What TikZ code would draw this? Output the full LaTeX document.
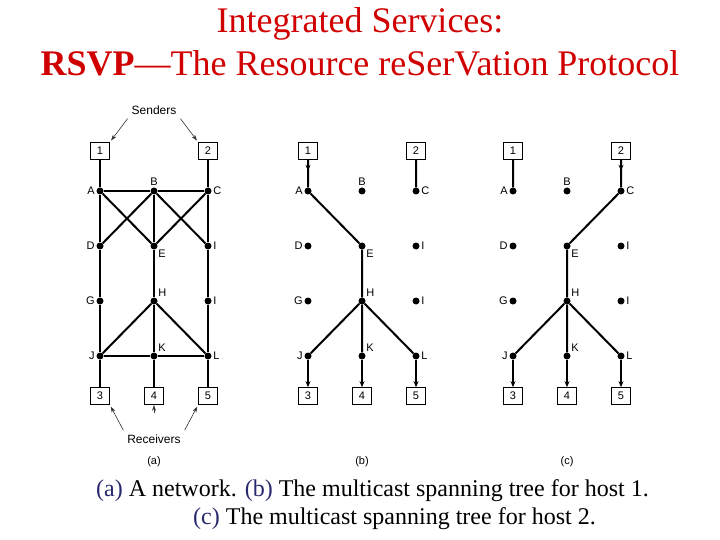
\documentclass[tikz,border=0pt]{standalone}
\usepackage{fontspec}
\setmainfont{Liberation Serif}
\newfontfamily\diagfont{Liberation Sans}
\usetikzlibrary{arrows.meta}
\definecolor{titlered}{RGB}{208,0,0}
\definecolor{capblue}{RGB}{40,40,110}
\newcommand{\labfont}{\diagfont\fontsize{11}{11}\selectfont}
\tikzset{
  hostbox/.style={draw,line width=0.7pt,minimum width=19pt,minimum height=17pt,inner sep=0pt,font=\labfont},
  router/.style={circle,fill,inner sep=0pt,minimum size=7pt},
  link/.style={line width=2pt},
  tip/.style={-{Stealth[length=6pt,width=5pt]}},
  pointer/.style={line width=0.6pt,black!80,-{Stealth[length=6pt,width=4pt]},shorten >=2pt,shorten <=1pt},
}

\begin{document}
\begin{tikzpicture}[x=1pt,y=-1pt,every label/.style={font=\labfont,inner sep=1.5pt}]
\useasboundingbox (0,0) rectangle (720,540);
\node[anchor=base,inner sep=0,text=titlered,font=\fontsize{36}{36}\selectfont] (title1) at (360,33) {Integrated Services:};
\node[anchor=base,inner sep=0,text=titlered,font=\fontsize{36}{36}\selectfont] (title2) at (360,76) {\textbf{RSVP}---The Resource reSerVation Protocol};
\foreach \p/\x in {a/100,b/308,c/513}{
  \node[hostbox] (\p1) at (\x,151) {1};
  \node[hostbox] (\p2) at (\x+108,151) {2};
  \node[hostbox] (\p3) at (\x,396) {3};
  \node[hostbox] (\p4) at (\x+54,396) {4};
  \node[hostbox] (\p5) at (\x+108,396) {5};
  \node[router,label=left:A] (\p A) at (\x,191) {};
  \node[router,label=above:B] (\p B) at (\x+54,191) {};
  \node[router,label=right:C] (\p C) at (\x+108,191) {};
  \node[router,label=left:D] (\p D) at (\x,246) {};
  \node[router,label=below right:E] (\p E) at (\x+54,246) {};
  \node[router,label=right:I] (\p F) at (\x+108,246) {};
  \node[router,label=left:G] (\p G) at (\x,301) {};
  \node[router,label=above right:H] (\p H) at (\x+54,301) {};
  \node[router,label=right:I] (\p I) at (\x+108,301) {};
  \node[router,label=left:J] (\p J) at (\x,356) {};
  \node[router,label=above right:K] (\p K) at (\x+54,356) {};
  \node[router,label=right:L] (\p L) at (\x+108,356) {};
  \node[font=\labfont] (\p cap) at (\x+54,462) {(\p)};
}
\draw[link] (a1) -- (aA) -- (aD) -- (aG) -- (aJ) -- (a3);
\draw[link] (aB) -- (aE) -- (aH) -- (aK) -- (a4);
\draw[link] (a2) -- (aC) -- (aF) -- (aI) -- (aL) -- (a5);
\draw[link] (aA) -- (aB) -- (aC) (aJ) -- (aK) -- (aL);
\draw[link] (aA) -- (aE) -- (aC) (aD) -- (aB) -- (aF);
\draw[link] (aJ) -- (aH) -- (aL);
\node[font=\diagfont\fontsize{12}{12}\selectfont] (snd) at (154,110) {Senders};
\node[font=\diagfont\fontsize{12}{12}\selectfont] (rcv) at (154,439) {Receivers};
\draw[pointer] (snd.south west) -- (a1.north east);
\draw[pointer] (snd.south east) -- (a2.north west);
\draw[pointer] (rcv.north west) -- (a3.south east);
\draw[pointer] (rcv.north east) -- (a5.south west);
\draw[pointer,shorten >=0pt] ([yshift=-9pt]a4.south) -- (a4.south);
\path (b1) -- (bA) coordinate[pos=0.4] (bm) (c2) -- (cC) coordinate[pos=0.4] (cm);
\draw[link] (b1) -- (bA) -- (bE) -- (bH) (b2) -- (bC);
\draw[link,tip] (b1.south) -- (bm);
\draw[link] (c1) -- (cA) (c2) -- (cC) -- (cE) -- (cH);
\draw[link,tip] (c2.south) -- (cm);
\foreach \p in {b,c}{
  \draw[link] (\p J) -- (\p H) -- (\p L) (\p H) -- (\p K);
  \draw[link,tip] (\p J) -- (\p3);
  \draw[link,tip] (\p K) -- (\p4);
  \draw[link,tip] (\p L) -- (\p5);
}
\node[anchor=base west,inner sep=0,font=\fontsize{24}{24}\selectfont] (cap1) at (96,496) {\textcolor{capblue}{(a)} A network. \textcolor{capblue}{(b)} The multicast spanning tree for host 1.};
\node[anchor=base west,inner sep=0,font=\fontsize{24}{24}\selectfont] (cap2) at (193,524) {\textcolor{capblue}{(c)} The multicast spanning tree for host 2.};
\end{tikzpicture}
\end{document}
